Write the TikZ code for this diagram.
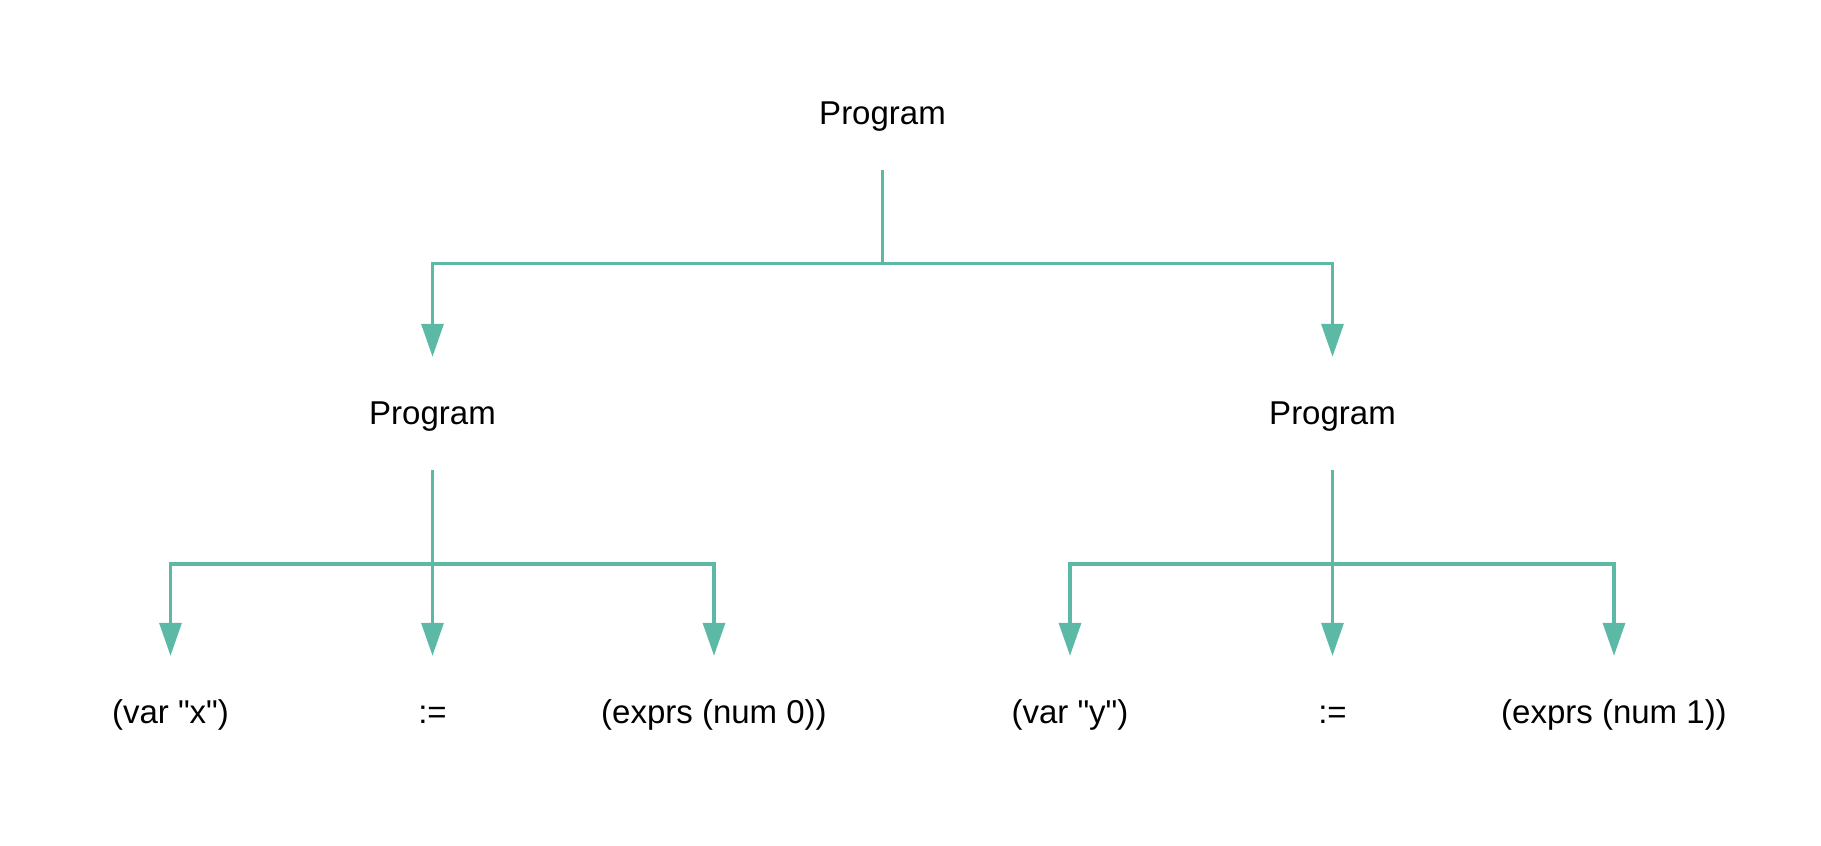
\documentclass[tikz,border=0pt]{standalone}
\usepackage{fontspec}
\setmainfont{Liberation Sans}[Ligatures=TeXOff]
\usetikzlibrary{arrows.meta}
\definecolor{teal1}{RGB}{91,185,165}
\begin{document}
\begin{tikzpicture}[x=1pt,y=1pt,
  lbl/.style={anchor=base,inner sep=0pt,text height=24pt,text depth=7pt,font=\fontsize{33}{40}\selectfont},
  conn/.style={draw=teal1,line width=3.3pt,shorten <=39pt,shorten >=43pt,-{Triangle[length=33pt,width=22pt]}}]
\useasboundingbox (0,0) rectangle (1821,-846);
\node[lbl] (root) at (882.5,-124) {Program};
\node[lbl] (pl) at (432.5,-424) {Program};
\node[lbl] (pr) at (1332.5,-424) {Program};
\node[lbl] (l1) at (170.5,-723) {(var "x")};
\node[lbl] (l2) at (432.5,-723) {:=};
\node[lbl] (l3) at (714,-723) {(exprs (num 0))};
\node[lbl] (r1) at (1070,-723) {(var "y")};
\node[lbl] (r2) at (1332.5,-723) {:=};
\node[lbl] (r3) at (1614,-723) {(exprs (num 1))};
\coordinate (j0) at (882.5,-263.5);
\coordinate (jl) at (432.5,-564);
\coordinate (jr) at (1332.5,-564);
\draw[conn] (root.south) -- (j0) -| (pl.north);
\draw[conn] (root.south) -- (j0) -| (pr.north);
\draw[conn] (pl.south) -- (jl) -| (l1.north);
\draw[conn] (pl.south) -- (jl) -| (l2.north);
\draw[conn] (pl.south) -- (jl) -| (l3.north);
\draw[conn] (pr.south) -- (jr) -| (r1.north);
\draw[conn] (pr.south) -- (jr) -| (r2.north);
\draw[conn] (pr.south) -- (jr) -| (r3.north);
\end{tikzpicture}
\end{document}
